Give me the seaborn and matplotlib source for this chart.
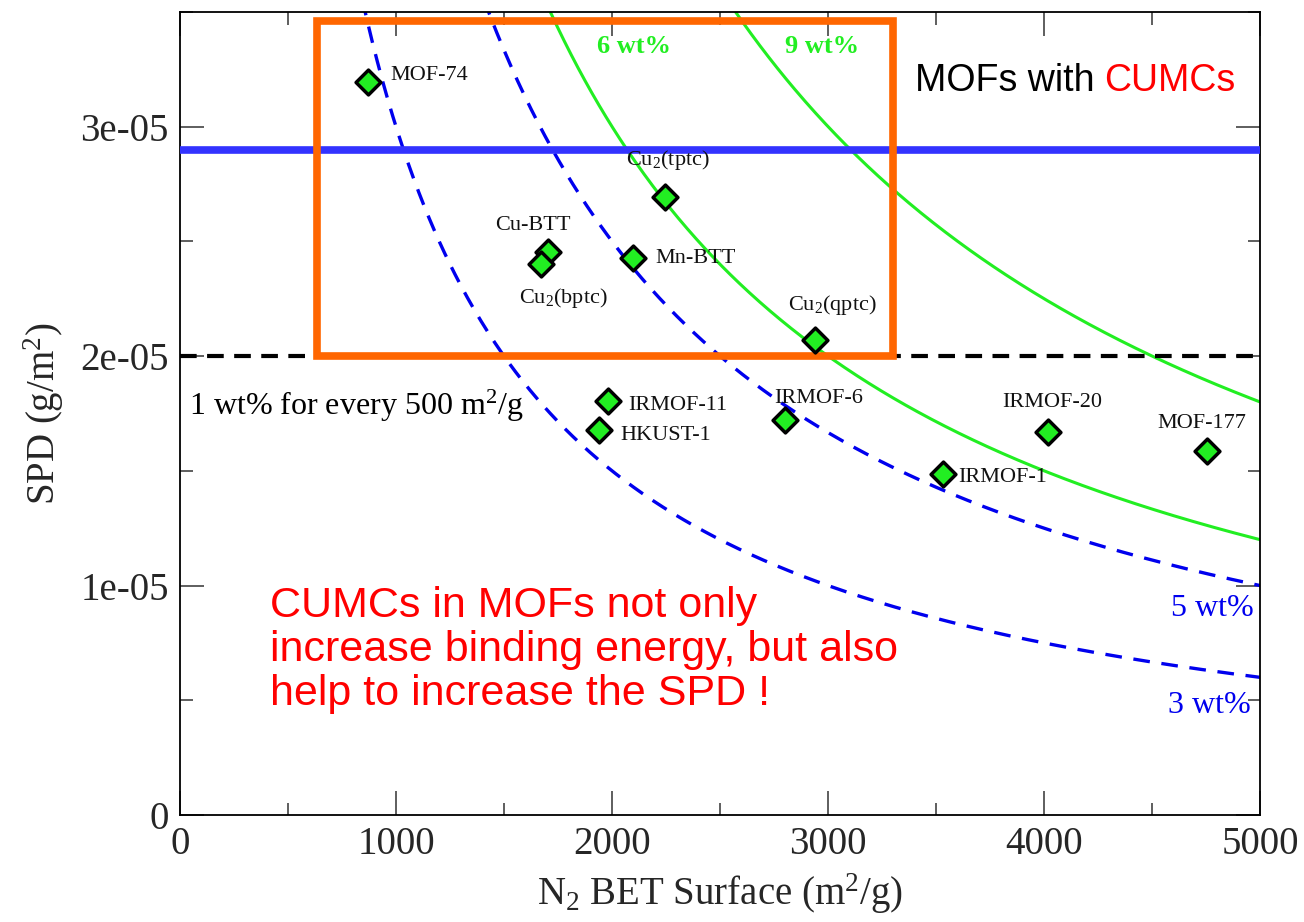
import numpy as np
import pandas as pd
import matplotlib
matplotlib.use("Agg")
import matplotlib.pyplot as plt
import seaborn as sns
from matplotlib.patches import Rectangle

# ---------------- data ----------------
mof_names = ["MOF-74", "Cu$_2$(tptc)", "Cu-BTT", "Cu$_2$(bptc)", "Mn-BTT", "Cu$_2$(qptc)",
             "IRMOF-11", "HKUST-1", "IRMOF-6", "IRMOF-1", "IRMOF-20", "MOF-177"]
bet_surface = [870, 2245, 1704, 1671, 2097, 2940, 1981, 1940, 2801, 3532, 4019, 4755]
spd_values = [3.194e-5, 2.693e-5, 2.453e-5, 2.401e-5, 2.427e-5, 2.07e-5,
              1.804e-5, 1.678e-5, 1.721e-5, 1.486e-5, 1.669e-5, 1.586e-5]

wt_blue = [3, 5]          # dashed iso-uptake curves (wt%)
wt_green = [6, 9]         # solid iso-uptake curves (wt%)
target_spd = 2.9e-5       # blue horizontal line
rule_spd = 2.0e-5         # "1 wt% for every 500 m2/g"
box_x = [634, 3301]
box_y = [2.0e-5, 3.46e-5]

x_ticks = [0, 1000, 2000, 3000, 4000, 5000]
x_ticklabels = ["0", "1000", "2000", "3000", "4000", "5000"]
y_ticks = [0, 1e-5, 2e-5, 3e-5]
y_ticklabels = ["0", "1e-05", "2e-05", "3e-05"]

# label offsets (pixels) and alignment
label_style = {
    "MOF-74": (22, 7, "left"),
    "Cu$_2$(tptc)": (3, 37, "center"),
    "Cu-BTT": (-15, 27, "center"),
    "Cu$_2$(bptc)": (22, -34, "center"),
    "Mn-BTT": (22, 0, "left"),
    "Cu$_2$(qptc)": (17, 35, "center"),
    "IRMOF-11": (20, -4, "left"),
    "HKUST-1": (21, -5, "left"),
    "IRMOF-6": (33, 22, "center"),
    "IRMOF-1": (15, -3, "left"),
    "IRMOF-20": (4, 30, "center"),
    "MOF-177": (-6, 28, "center"),
}

# ---------------- style ----------------
sns.set_theme(style="white")
plt.rcParams["font.family"] = ["Liberation Serif", "DejaVu Serif"]
plt.rcParams["mathtext.fontset"] = "custom"
plt.rcParams["mathtext.rm"] = "Liberation Serif"
plt.rcParams["mathtext.it"] = "Liberation Serif:italic"
plt.rcParams["mathtext.bf"] = "Liberation Serif:bold"

fig = plt.figure(figsize=(13.04, 9.22), dpi=100)
ax = fig.add_axes([0.138, 0.116, 0.8285, 0.871])

xgrid = np.linspace(200, 5000, 600)
curves = []
for w in wt_blue + wt_green:
    curves.append(pd.DataFrame({"x": xgrid, "y": (w / 100.0) / xgrid, "wt": w}))
cdf = pd.concat(curves)

for w in wt_blue:
    sns.lineplot(data=cdf[cdf.wt == w], x="x", y="y", ax=ax, color="#0000ee",
                 lw=2.4, dashes=False, linestyle=(0, (5, 3.5)), zorder=2)
for w in wt_green:
    sns.lineplot(data=cdf[cdf.wt == w], x="x", y="y", ax=ax, color="#22ee22",
                 lw=2.2, zorder=2)

ax.axhline(target_spd, color="#3333ff", lw=5.5, zorder=3)
ax.axhline(rule_spd, color="black", lw=3, linestyle=(0, (4, 2.5)), zorder=3)

ax.add_patch(Rectangle((box_x[0], box_y[0]), box_x[1] - box_x[0], box_y[1] - box_y[0],
                       fill=False, edgecolor="#ff6600", lw=5.5, zorder=4))

df = pd.DataFrame({"name": mof_names, "x": bet_surface, "y": spd_values})
sns.scatterplot(data=df, x="x", y="y", ax=ax, marker="D", s=160, color="#22ee22",
                edgecolor="black", linewidth=2.5, zorder=5)

for name, xv, yv in zip(mof_names, bet_surface, spd_values):
    dx, dy, ha = label_style[name]
    ax.annotate(name, (xv, yv), xytext=(dx, dy), textcoords="offset pixels",
                ha=ha, va="center", fontsize=16, color="#111111", zorder=6)

# curve labels
ax.text(2100, 3.35e-5, "6 wt%", color="#22ee22", fontsize=19, fontweight="bold",
        ha="center", va="center")
ax.text(2970, 3.35e-5, "9 wt%", color="#22ee22", fontsize=19, fontweight="bold",
        ha="center", va="center")
ax.text(4970, 0.9e-5, "5 wt%", color="#0000ee", fontsize=23, ha="right", va="center")
ax.text(4955, 0.478e-5, "3 wt%", color="#0000ee", fontsize=23, ha="right", va="center")
ax.text(40, 1.785e-5, "1 wt% for every 500 m$^2$/g", color="black", fontsize=23,
        ha="left", va="center")

t1 = ax.text(3400, 3.2e-5, "MOFs with ", color="black", fontsize=27,
             family=["Liberation Sans", "DejaVu Sans"], ha="left", va="center")
ax.annotate("CUMCs", xy=(1, 0), xycoords=t1, va="bottom", ha="left", color="red",
            fontsize=27, family=["Liberation Sans", "DejaVu Sans"])

ax.text(415, 0.72e-5, "CUMCs in MOFs not only\nincrease binding energy, but also\nhelp to increase the SPD !",
        color="red", fontsize=31, family=["Liberation Sans", "DejaVu Sans"],
        ha="left", va="center", linespacing=1.12)

ax.set_xlim(0, 5000)
ax.set_ylim(0, 3.5e-5)
ax.set_xticks(x_ticks)
ax.set_xticklabels(x_ticklabels)
ax.set_yticks(y_ticks)
ax.set_yticklabels(y_ticklabels)
ax.set_xticks(np.arange(500, 5000, 1000), minor=True)
ax.set_yticks([0.5e-5, 1.5e-5, 2.5e-5, 3.5e-5], minor=True)
ax.tick_params(which="both", direction="in", top=True, right=True, bottom=True, left=True,
               labelsize=28, color="#333333", width=1.1)
ax.tick_params(which="major", length=17)
ax.tick_params(which="minor", length=9)
ax.tick_params(axis="x", pad=8)
ax.tick_params(axis="y", pad=8)

ax.set_xlabel("N$_2$ BET Surface (m$^2$/g)", fontsize=28, labelpad=6)
ax.set_ylabel("SPD (g/m$^2$)", fontsize=28, labelpad=10)
for sp in ax.spines.values():
    sp.set_color("black")
    sp.set_linewidth(1.3)
if ax.legend_:
    ax.legend_.remove()

fig.savefig("out.png", dpi=100)
